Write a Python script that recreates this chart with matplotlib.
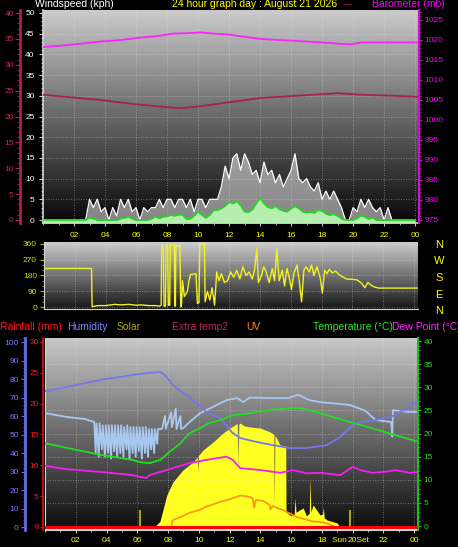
import matplotlib
matplotlib.use("Agg")
import matplotlib.pyplot as plt
import numpy as np
from matplotlib.colors import LinearSegmentedColormap
from matplotlib.ticker import MultipleLocator

plt.rcParams['font.family'] = ['Liberation Sans', 'DejaVu Sans']

# ---- wind (15 minute samples, kph)
wind_hours = np.arange(0, 24.01, 0.25)
wind_gust = [0, 0, 0, 0, 0, 0, 0, 0, 0, 0, 0, 0,
             5, 3, 5, 2, 3, 0, 3, 1, 5, 3, 5, 2, 3, 0, 3, 2, 3, 3, 5, 3,
             5, 5, 3, 5, 5, 3, 5, 2, 5, 5, 3, 5, 5, 5, 8, 13, 10, 15, 16, 12,
             16, 14, 11, 12, 9, 14, 11, 12, 9, 11, 8, 10, 12, 16, 10, 9, 10, 8,
             7, 9, 5, 7, 5, 7, 5, 3, 0, 0, 3, 2, 5, 3, 5, 3, 2, 3, 0, 3, 0,
             0, 0, 0, 0, 0, 0]
wind_avg = [0, 0, 0, 0, 0, 0, 0, 0, 0, 0, 0, 0,
            0.5, 0.3, 0, 0, 0, 0, 0, 0, 0.3, 0.5, 0.8, 0.3, 0, 0, 0, 0,
            0.3, 0.8, 0.4, 0.8, 0.9, 1.2, 1.0, 1.3, 1.2, 0.2, 0.3, 1.0,
            2.0, 1.2, 0.5, 1.2, 2.3, 2.4, 2.8, 3.4, 4.3, 4.0, 4.5, 3.5,
            2.0, 1.9, 2.5, 4.0, 5.3, 4.0, 3.1, 2.8, 3.4, 2.6, 2.2, 2.0,
            2.8, 3.3, 2.8, 2.0, 1.8, 1.9, 1.7, 2.4, 2.2, 1.5, 1.2, 1.4,
            1.0, 0.3, 0, 0, 0, 0.4, 1.0, 0.8, 0.2, 0.6, 0,
            0, 0, 0, 0, 0, 0, 0, 0, 0, 0]

# ---- crimson trace and barometer
temp2_hours = [0, 3.7, 5.85, 8.0, 8.9, 10.2, 12.1, 14.1, 16.3, 19.0, 20.5, 22.7, 24.25]
temp2_c = [24.2, 23.2, 22.4, 21.8, 21.6, 22.0, 22.8, 23.6, 24.0, 24.5, 24.2, 24.0, 23.8]
baro_hours = [0, 1.5, 3.7, 5.0, 6.3, 7.4, 8.4, 9.3, 10.2, 11.0, 11.9, 13.0, 14.1,
              15.2, 16.3, 17.4, 18.4, 19.3, 19.9, 20.5, 21.6, 22.7, 24.25]
baro_mb = [1018.25, 1018.7, 1019.6, 1020.0, 1020.6, 1021.0, 1021.6, 1021.7, 1021.9,
           1021.6, 1021.4, 1020.8, 1020.25, 1020.0, 1019.8, 1019.5, 1019.3, 1019.0,
           1018.9, 1019.4, 1019.4, 1019.4, 1019.4]

# ---- wind direction (degrees)
dir_hours = [0, 3.08, 3.12, 3.5, 4.0, 4.6, 5.0, 5.5, 6.0, 6.3, 6.8, 7.2, 7.5, 7.6,
             7.63, 7.74, 7.78, 7.88, 7.91, 8.02, 8.06, 8.15, 8.19, 8.45, 8.49, 8.52,
             8.55, 8.81, 8.87, 8.92, 8.98, 9.1, 9.3, 9.4, 9.5, 9.85, 9.95, 10.05,
             10.1, 10.4, 10.45, 10.6, 10.75, 10.9, 11.06, 11.2, 11.35, 11.5,
             11.7, 11.9, 12.1, 12.3, 12.5, 12.7, 12.9, 13.1, 13.3, 13.5, 13.65, 13.8,
             13.9, 14.1, 14.25, 14.4, 14.6, 14.8, 14.95, 15.1, 15.25, 15.45, 15.6,
             15.75, 15.9, 16.05, 16.2, 16.4, 16.55, 16.7, 16.85, 17.0, 17.2, 17.35,
             17.5, 17.7, 17.9, 18.05, 18.2, 18.35, 18.5, 18.7, 18.9, 19.2, 19.6,
             20.0, 20.3, 20.6, 20.8, 21.0, 21.2, 21.4, 21.7, 24.25]
dir_deg = [220, 220, 2, 8, 8, 15, 12, 15, 10, 12, 8, 8, 5, 10,
           355, 350, 5, 5, 350, 350, 10, 10, 355, 355, 5, 5,
           350, 350, 0, 20, 150, 60, 90, 150, 185, 190, 20, 25,
           360, 360, 30, 90, 40, 110, 10, 200, 150, 190,
           140, 150, 200, 170, 210, 160, 230, 180, 200, 160, 210, 335,
           140, 180, 230, 200, 140, 220, 150, 330, 150, 210, 120,
           220, 170, 100, 190, 240, 150, 30, 210, 230, 200, 240,
           180, 230, 170, 80, 210, 190, 215, 195, 205, 180, 160,
           158, 155, 135, 110, 140, 125, 115, 108, 108]

# ---- temperature / dew point (C)
temp_hours = [0, 1.4, 3.6, 5.7, 6.2, 6.8, 7.5, 8.1, 8.8, 9.4, 10.1, 10.7, 11.4, 12.0,
              13.3, 14.6, 15.9, 16.6, 17.9, 19.2, 20.0, 20.6, 21.5, 22.5, 24.3]
temp_c = [17.9, 16.9, 15.4, 14.3, 13.8, 13.6, 14.3, 16.0, 17.9, 20.1, 21.2, 22.3, 22.9,
          23.8, 24.4, 25.1, 25.5, 25.5, 24.4, 23.1, 22.3, 21.8, 20.9, 19.9, 18.2]
dew_hours = [0, 1.4, 3.6, 5.7, 6.2, 6.6, 6.8, 7.5, 8.3, 9.4, 10.5, 11.8, 12.2, 12.7,
             14.0, 15.3, 16.1, 17.0, 17.9, 19.2, 20.0, 20.5, 21.3, 22.3, 22.8, 23.7, 24.3]
dew_c = [13.0, 12.3, 11.7, 11.0, 10.6, 10.4, 11.0, 11.7, 12.5, 13.6, 14.3, 15.0, 14.3,
         12.5, 12.1, 11.5, 12.1, 11.4, 11.5, 11.0, 12.8, 12.1, 11.5, 11.8, 12.1, 11.5, 11.7]

# ---- humidity (%)
hum_hours = [0, 1.4, 3.6, 5.7, 6.6, 7.5, 7.8, 8.3, 9.0, 9.2, 10.5, 11.4, 12.2, 12.7,
             13.8, 14.8, 15.9, 17.0, 18.3, 19.2, 20.0, 20.5, 21.5, 22.8, 23.1, 23.6,
             23.9, 24.3]
hum_pct = [73.5, 75.7, 79.5, 82.2, 83.2, 83.8, 82.2, 76.8, 72.4, 71.4, 62.2, 58.9,
           50.8, 48.1, 45.9, 44.3, 42.7, 42.7, 44.3, 48.6, 55.1, 56.8, 57.8, 60.5,
           62.7, 63.2, 67.0, 67.0]
hum2_hours = [0, 1.4, 2.6, 3.2, 3.3, 3.35, 3.5, 3.55, 3.7, 3.75, 3.9, 3.95, 4.1, 4.15,
              4.3, 4.35, 4.5, 4.55, 4.7, 4.75, 4.9, 4.95, 5.1, 5.15, 5.3, 5.35, 5.5,
              5.55, 5.7, 5.75, 5.9, 5.95, 6.1, 6.15, 6.3, 6.35, 6.5, 6.55, 6.7, 6.75,
              6.9, 6.95, 7.1, 7.15, 7.3, 7.35, 7.6, 7.8, 7.85, 8.2, 8.25, 8.5, 8.55,
              8.8, 8.85, 9.0, 9.4, 10.1, 10.9, 11.8, 12.5, 12.9, 13.3, 14.6, 15.8,
              16.4, 16.6, 17.2, 17.9, 19.2, 19.8, 20.3, 20.8, 21.5, 22.5, 22.58,
              22.62, 23.6, 24.3]
hum2_pct = [61.6, 59.5, 58.4, 56.8, 40, 56, 38, 56, 42, 55, 38, 55, 40, 55,
            37, 55, 41, 55, 38, 55, 40, 55, 38, 54, 42, 55, 37,
            54, 40, 54, 38, 54, 41, 54, 37, 54, 40, 54, 38, 53,
            42, 53, 40, 53, 45, 53, 53, 60, 53, 62, 54, 64, 53,
            60, 53, 53.5, 56.8, 61.6, 64.9, 68.6, 69.7, 67.6, 70.0, 69.7, 69.7,
            71.4, 71.0, 68.6, 67.5, 66.5, 66.0, 64.5, 63.0, 57.8, 56.8, 49.0,
            63.2, 62.2, 62.2]

# ---- solar (W/m2), UV index, rain (mm)
solar_hours = [0, 7.1, 7.47, 7.92, 8.31, 8.96, 9.3, 9.62, 9.9, 9.93, 9.97, 10.27,
               10.92, 11.57, 12.02, 12.4, 12.5, 12.55, 12.6, 12.68, 13.0, 13.33,
               13.98, 14.63, 14.88, 14.9, 14.95, 15.0, 15.28, 15.6, 15.65, 15.67,
               16.0, 16.2, 16.26, 16.32, 16.78, 17.0, 17.18, 17.23, 17.28, 17.43,
               17.88, 18.05, 18.1, 18.15, 18.34, 18.99, 19.18, 24.3]
solar_wm2 = [0, 0, 30, 173, 243, 308, 330, 351, 378, 290, 385, 416,
             459, 508, 535, 555, 560, 350, 555, 562, 545, 541,
             535, 514, 500, 120, 495, 490, 443, 440, 430, 81,
             60, 70, 157, 80, 103, 60, 75, 270, 80, 119,
             65, 70, 110, 50, 38, 22, 0, 0]
uv_hours = [0, 8.2, 8.3, 8.8, 9.4, 10.1, 10.5, 11.4, 11.9, 12.7, 13.3, 13.5, 13.6,
            13.7, 14.2, 14.6, 14.65, 14.8, 15.5, 16.4, 17.4, 17.9, 18.3, 18.9, 24.3]
uv_index = [0, 0, 1.1, 1.6, 2.3, 2.8, 3.3, 4.1, 4.4, 5.1, 4.9, 4.6, 3.1,
            4.4, 4.2, 3.6, 2.8, 3.4, 2.7, 1.6, 0.9, 0.8, 0.6, 0, 0]
rain_hours = [0, 24.3]
rain_mm = [0, 0]
sunrise_h = 6.17
sunset_h = 19.84

hour_ticks = [2, 4, 6, 8, 10, 12, 14, 16, 18, 20, 22, 24]
hour_labels = ['02', '04', '06', '08', '10', '12', '14', '16', '18', '20', '22', '00']

W, H = 458, 547
fig = plt.figure(figsize=(W / 100, H / 100), dpi=100, facecolor='black')


def shade(ax, top, bottom):
    cmap = LinearSegmentedColormap.from_list('bg', [bottom, top])
    ax.imshow(np.linspace(0, 1, 256).reshape(-1, 1), cmap=cmap, origin='lower',
              extent=[0, 1, 0, 1], transform=ax.transAxes, aspect='auto', zorder=0)


def hide_spines(ax):
    for s in ax.spines.values():
        s.set_visible(False)


def dotted_grid(ax, axis):
    ax.grid(True, axis=axis, color='#e8e8e8', linestyle=(0, (1, 2)), linewidth=0.6, alpha=0.5)


def side_axis(ax, side, color, lw, outward=0):
    hide_spines(ax)
    ax.spines[side].set_visible(True)
    ax.spines[side].set_position(('outward', outward))
    ax.spines[side].set_color(color)
    ax.spines[side].set_linewidth(lw)
    ax.yaxis.set_ticks_position(side)
    ax.set_facecolor('none')


# ---------------- panel 1 : wind speed and barometer
ax1 = fig.add_axes([43 / W, 1 - 223 / H, 376 / W, 213 / H])
shade(ax1, '#cbcbcb', '#070707')
hide_spines(ax1)
for side in ('left', 'bottom'):
    ax1.spines[side].set_visible(True)
    ax1.spines[side].set_color('#d4d4d4')
    ax1.spines[side].set_linewidth(1.2)
ax1.fill_between(wind_hours, 0, wind_gust, color='#ececec', alpha=0.55, lw=0, zorder=2)
ax1.plot(wind_hours, wind_gust, color='white', lw=0.9, zorder=3)
ax1.fill_between(wind_hours, -0.72, wind_avg, color='#b6eeb0', lw=0, zorder=4)
ax1.plot(wind_hours, wind_avg, color='#22d822', lw=1.2, zorder=5)
ax1.set_xlim(0, 24.25)
ax1.set_ylim(-0.72, 50.72)
ax1.set_xticks(hour_ticks, hour_labels)
ax1.xaxis.set_minor_locator(MultipleLocator(1))
ax1.set_yticks(range(0, 51, 5))
ax1.yaxis.set_minor_locator(MultipleLocator(1))
ax1.set_axisbelow(True)
dotted_grid(ax1, 'both')
ax1.tick_params(axis='x', which='major', colors='#c8c8c8', labelcolor='#ffff00',
                labelsize=6, length=2.5, pad=4)
ax1.tick_params(axis='x', which='minor', colors='#c8c8c8', length=1.5)
ax1.tick_params(axis='y', which='major', colors='#d0d0d0', labelcolor='white',
                labelsize=6, length=3, pad=3)
ax1.tick_params(axis='y', which='minor', colors='#d0d0d0', length=1.5)

ax1c = ax1.twinx()
side_axis(ax1c, 'left', '#b01e50', 2, outward=16.5)
ax1c.plot(temp2_hours, temp2_c, color='#a8204e', lw=1.3)
ax1c.set_ylim(-0.58, 40.58)
ax1c.set_yticks(range(0, 41, 5))
ax1c.yaxis.set_minor_locator(MultipleLocator(1))
ax1c.tick_params(axis='y', which='major', colors='#b01e50', labelcolor='#cc2a5c',
                 labelsize=6, length=3.5, pad=1)
ax1c.tick_params(axis='y', which='minor', colors='#b01e50', length=2)

ax1b = ax1.twinx()
side_axis(ax1b, 'right', '#d010d0', 1.5)
ax1b.plot(baro_hours, baro_mb, color='#ff22ff', lw=1.3)
ax1b.set_ylim(974.25, 1027.5)
ax1b.set_yticks(range(975, 1026, 5))
ax1b.yaxis.set_minor_locator(MultipleLocator(1))
ax1b.tick_params(axis='y', which='major', colors='#d010d0', labelcolor='#ff00ff',
                 labelsize=6, length=2, pad=2)
ax1b.tick_params(axis='y', which='minor', colors='#d010d0', length=1.2)

fig.text(35 / W, 1 - 4 / H, 'Windspeed (kph)', color='white', fontsize=7.5, va='center')
fig.text(172 / W, 1 - 4 / H, '24 hour graph day : August 21 2026', color='#ffff00',
         fontsize=7.5, va='center')
fig.text(343 / W, 1 - 4 / H, '---', color='#c02858', fontsize=7.5, va='center')
fig.text(372 / W, 1 - 4 / H, 'Barometer (mb)', color='#ff00ff', fontsize=7.5, va='center')

# ---------------- panel 2 : wind direction
ax2 = fig.add_axes([44 / W, 1 - 309 / H, 374 / W, 67 / H])
shade(ax2, '#d0d0d0', '#151515')
hide_spines(ax2)
for side in ('left', 'bottom'):
    ax2.spines[side].set_visible(True)
    ax2.spines[side].set_color('#d4d4d4')
ax2.plot(dir_hours, dir_deg, color='#f2f222', lw=1)
ax2.set_xlim(0, 24.25)
ax2.set_ylim(-11.4, 371)
ax2.set_xticks(hour_ticks)
ax2.set_yticks([0, 90, 180, 270, 360])
ax2.yaxis.set_minor_locator(MultipleLocator(30))
ax2.set_axisbelow(True)
dotted_grid(ax2, 'both')
ax2.tick_params(axis='x', length=0, labelbottom=False)
ax2.tick_params(axis='y', which='major', colors='#b0b000', labelcolor='#d8d800',
                labelsize=6, length=3, pad=2)
ax2.tick_params(axis='y', which='minor', colors='#b0b000', length=1.5)
for letter, ypx in zip(['N', 'W', 'S', 'E', 'N'], [245, 261.5, 278, 294.5, 311]):
    fig.text(439 / W, 1 - ypx / H, letter, color='#ffff00', fontsize=8,
             ha='center', va='center')

# ---------------- panel 3 : rain, humidity, solar, UV, temperature
ax3 = fig.add_axes([45 / W, 17 / H, 373 / W, 192 / H])
shade(ax3, '#c8c8c8', '#0b0b0b')
hide_spines(ax3)
for side in ('left', 'bottom'):
    ax3.spines[side].set_visible(True)
    ax3.spines[side].set_color('#d4d4d4')
ax3.fill_between(solar_hours, -16.2, solar_wm2, color='#ffff22', lw=0, zorder=2)
ax3.set_xlim(0, 24.25)
ax3.set_ylim(-16.2, 1022)
ax3.set_yticks([])
ax3.set_xticks(hour_ticks, hour_labels)
ax3.xaxis.set_minor_locator(MultipleLocator(1))
ax3.set_axisbelow(True)
dotted_grid(ax3, 'x')
ax3.tick_params(axis='x', which='major', colors='#c8c8c8', labelcolor='#ffff00',
                labelsize=6, length=2, pad=3)
ax3.tick_params(axis='x', which='minor', colors='#c8c8c8', length=1.5)
ax3.text(sunset_h, -0.055, 'Sun    Set', transform=ax3.get_xaxis_transform(),
         color='#ffff40', fontsize=6, ha='center', va='center')

ax3h = ax3.twinx()
side_axis(ax3h, 'left', '#6a6ae8', 2, outward=14.4)
ax3h.plot(hum2_hours, hum2_pct, color='#a8c8f0', lw=1.3)
ax3h.plot(hum_hours, hum_pct, color='#7676ec', lw=1.3)
ax3h.set_ylim(-1.62, 102.2)
ax3h.set_yticks(range(0, 101, 10))
ax3h.yaxis.set_minor_locator(MultipleLocator(2))
ax3h.tick_params(axis='y', which='major', colors='#6a6ae8', labelcolor='#7a7aff',
                 labelsize=6, length=3, pad=1.5)
ax3h.tick_params(axis='y', which='minor', colors='#6a6ae8', length=1.5)

ax3t = ax3.twinx()
side_axis(ax3t, 'right', '#18c018', 1.5)
dotted_grid(ax3t, 'y')
ax3t.plot(temp_hours, temp_c, color='#22dd22', lw=1.3)
ax3t.plot(dew_hours, dew_c, color='#f020f0', lw=1.3)
ax3t.set_ylim(-0.86, 40.65)
ax3t.set_yticks(range(0, 41, 5))
ax3t.yaxis.set_minor_locator(MultipleLocator(1))
ax3t.tick_params(axis='y', which='major', colors='#18c018', labelcolor='#22e022',
                 labelsize=6, length=2.5, pad=1.5)
ax3t.tick_params(axis='y', which='minor', colors='#18c018', length=1.2)

ax3r = ax3.twinx()
side_axis(ax3r, 'left', '#e01010', 1.2, outward=1.4)
ax3r.plot(uv_hours, uv_index, color='#ff9018', lw=1.2)
ax3r.vlines([sunrise_h, sunset_h], 0, 2.7, color='#b0a020', lw=1.5)
ax3r.plot(rain_hours, rain_mm, color='#ff0000', lw=2.2)
ax3r.set_ylim(-0.49, 30.63)
ax3r.set_yticks(range(0, 31, 5))
ax3r.yaxis.set_minor_locator(MultipleLocator(1))
ax3r.tick_params(axis='y', which='major', colors='#e01010', labelcolor='#ff1a1a',
                 labelsize=6, length=2, pad=1)
ax3r.tick_params(axis='y', which='minor', colors='#e01010', length=1)

header_y = 1 - 327 / H
for label, xpx, col in [('Rainfall (mm)', 0, '#ff1a1a'), ('Humidity', 67, '#8080ff'),
                        ('Solar', 117, '#a8a800'), ('Extra temp2', 172, '#c02858'),
                        ('UV', 246, '#ff8c10'), ('Temperature (\u00b0C)', 313, '#22ee22'),
                        ('Dew Point (\u00b0C)', 392, '#ff22ff')]:
    fig.text(xpx / W, header_y, label, color=col, fontsize=7.5, va='center')

fig.savefig('out.png', dpi=100, facecolor='black')
